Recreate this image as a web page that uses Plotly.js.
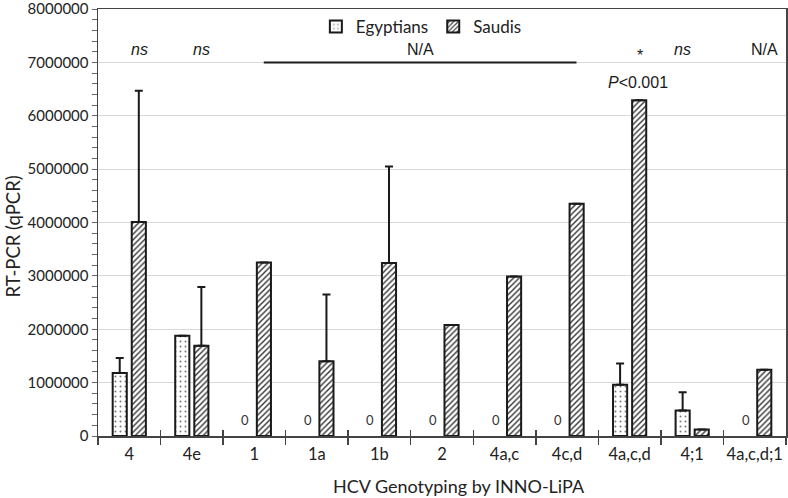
<!DOCTYPE html>
<html><head><meta charset="utf-8">
<script src="https://cdn.plot.ly/plotly-3.0.1.min.js"></script>
<style>html,body{margin:0;padding:0;background:#fff}#chart{width:788px;height:498px}</style>
</head><body><div id="chart"></div>
<script>
const categories = ['4','4e','1','1a','1b','2','4a,c','4c,d','4a,c,d','4;1','4a,c,d;1'];
const egyptians = [1180000,1880000,0,0,0,0,0,0,960000,480000,0];
const egyptiansErr = [280000,0,0,0,0,0,0,0,400000,340000,0];
const saudis = [4010000,1690000,3250000,1400000,3240000,2080000,2990000,4350000,6290000,120000,1240000];
const saudisErr = [2460000,1100000,0,1250000,1810000,0,0,0,0,0,0];
const sigLabels = ['ns','ns','','','','','','','*','ns','N/A'];
const naSpanFrom = '1', naSpanTo = '4c,d', naSpanLabel = 'N/A';
const pLabel = '<i>P</i><0.001';
const xTitle = 'HCV Genotyping by INNO-LiPA';
const yTitle = 'RT-PCR (qPCR)';

const idx = categories.map((c,i)=>i);
const zeros = categories.map(()=>0);
const nz = arr => arr.map(v => v===0 ? null : v);
const traces = [
  {type:'bar', name:'Egyptians', x:idx, y:nz(egyptians),
   marker:{color:'#ffffff', line:{color:'#1a1a1a', width:2},
     pattern:{shape:'.', fgcolor:'#777', bgcolor:'#ffffff', size:5, solidity:0.12}},
   error_y:{type:'data', symmetric:false, array:egyptiansErr, arrayminus:zeros, color:'#1a1a1a', thickness:2, width:4}},
  {type:'bar', name:'Saudis', x:idx, y:saudis,
   marker:{color:'#ffffff', line:{color:'#1a1a1a', width:2},
     pattern:{shape:'/', fgcolor:'#333', bgcolor:'#ffffff', size:4, solidity:0.35}},
   error_y:{type:'data', symmetric:false, array:saudisErr, arrayminus:zeros, color:'#1a1a1a', thickness:2, width:4}},
  {type:'bar', x:idx, y:idx.map(()=>null), xaxis:'x2', showlegend:false, hoverinfo:'skip'},
  {type:'bar', x:idx, y:idx.map(()=>null), xaxis:'x3', showlegend:false, hoverinfo:'skip'}
];

const annotations = [];
const sigFont = {family:'Liberation Sans, Arial', size:16, color:'#1a1a1a'};
categories.forEach((c,i)=>{
  if (egyptians[i]===0) {
    annotations.push({x:i, y:0, xref:'x', yref:'y', text:'0', showarrow:false, xshift:-9, yshift:16,
      font:{family:'Lato, sans-serif', size:13, color:'#333'}});
  }
  const s = sigLabels[i];
  if (s) {
    const txt = s==='ns' ? '<i>ns</i>' : s;
    const xs = (s==='ns' && i===9) ? -10 : 10;
    annotations.push({x:i, y:7220000, xref:'x', yref:'y', text:txt, showarrow:false, xshift:xs,
      yshift: s==='*' ? -5 : 1, font:sigFont});
    if (s==='*') {
      annotations.push({x:i, y:6620000, xref:'x', yref:'y', text:pLabel, showarrow:false, xshift:8, font:sigFont});
    }
  }
});
const iFrom = categories.indexOf(naSpanFrom), iTo = categories.indexOf(naSpanTo);
annotations.push({x:(iFrom+iTo)/2, y:7220000, xref:'x', yref:'y', text:naSpanLabel, showarrow:false, xshift:10, yshift:1, font:sigFont});
annotations.push({x:0.5, xref:'paper', xshift:17, y:0, yref:'paper', yshift:-50, xanchor:'center', yanchor:'middle', text:xTitle, showarrow:false,
  font:{family:'Lato, sans-serif', size:18, color:'#222'}});
annotations.push({x:0, xref:'paper', xshift:-86, y:0.5, yref:'paper', yshift:-14, xanchor:'center', yanchor:'middle', text:yTitle, textangle:-90, showarrow:false,
  font:{family:'Lato, sans-serif', size:18.5, color:'#222'}});

const shapes = [{type:'line', xref:'x', yref:'y', x0:iFrom+0.15, x1:iTo+0.15, y0:7000000, y1:7000000,
  line:{color:'#1a1a1a', width:2}}];

const bounds = idx.map(i=>i-0.5).concat([10.5]);
const blank = bounds.map(()=> '');
const layout = {
  width:788, height:498,
  margin:{l:98, r:2, t:9, b:62},
  paper_bgcolor:'#fff', plot_bgcolor:'#fff',
  font:{family:'Lato, sans-serif', size:14, color:'#222'},
  barmode:'group', bargap:0.39, bargroupgap:0.26,
  showlegend:true,
  legend:{orientation:'h', x:0.47, xanchor:'center', y:1.0, yanchor:'top', font:{family:'Lato, sans-serif', size:17, color:'#222'},
    bgcolor:'rgba(0,0,0,0)', itemwidth:30},
  xaxis:{range:[-0.5,10.5], showgrid:false, showline:true, linecolor:'#444', linewidth:1.5, mirror:true,
    ticks:'outside', ticklen:7, tickcolor:'#444', tickwidth:1.5, zeroline:false,
    tickmode:'array', tickvals:bounds, ticktext:blank, showticklabels:false},
  xaxis3:{range:[-0.5,10.5], overlaying:'x', side:'bottom', showgrid:false, showline:false, zeroline:false,
    ticks:'inside', ticklen:6, tickcolor:'#444', tickwidth:1.5,
    tickmode:'array', tickvals:bounds, ticktext:blank, showticklabels:false},
  xaxis2:{range:[-0.5,10.5], overlaying:'x', side:'bottom', showgrid:false, showline:false, zeroline:false,
    tickmode:'array', tickvals:idx, ticktext:categories, ticks:'', showticklabels:true, ticklabelstandoff:6,
    tickfont:{family:'Lato, sans-serif', size:16.5, color:'#222'}},
  yaxis:{range:[0,8000000], dtick:1000000, tickformat:'d', showgrid:true, gridcolor:'#d9d9d9', gridwidth:1,
    showline:true, linecolor:'#444', linewidth:1.5, mirror:true, zeroline:false, ticklabeloverflow:'allow',
    ticks:'outside', ticklen:5, tickcolor:'#666',
    minor:{dtick:200000, ticks:'outside', ticklen:5, tickcolor:'#666', showgrid:false},
    tickfont:{family:'Lato, sans-serif', size:15, color:'#222'}},
  annotations, shapes
};
Plotly.newPlot('chart', traces, layout, {displayModeBar:false, staticPlot:true});
</script></body></html>
